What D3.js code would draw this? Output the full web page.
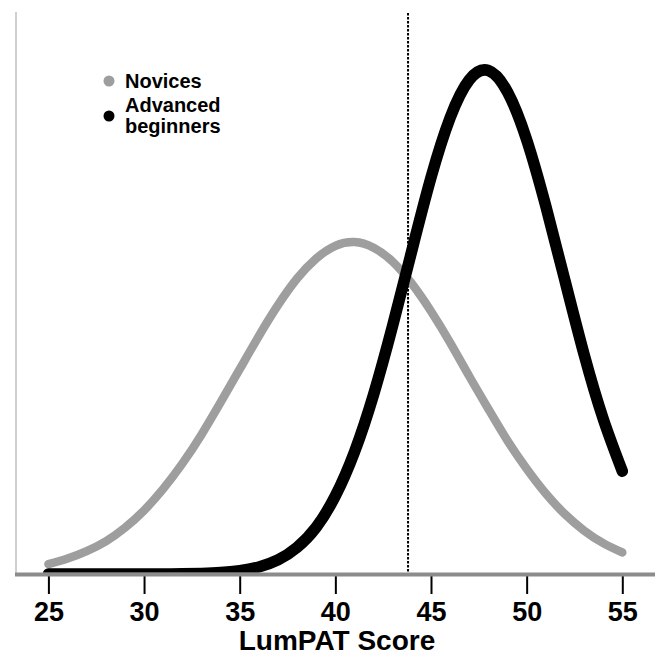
<!DOCTYPE html>
<html>
<head>
<meta charset="utf-8">
<script src="https://cdn.jsdelivr.net/npm/d3@7"></script>
<style>
  body { margin: 0; background: #fff; }
  svg { display: block; }
  text { font-family: "Liberation Sans", Arial, sans-serif; font-weight: bold; }
</style>
</head>
<body>
<div id="chart"></div>
<script>
var W = 656, H = 656;

// scores (x axis)
var scores = [25, 26, 27, 28, 29, 30, 31, 32, 33, 34, 35, 36, 37, 38, 39, 40,
              41, 42, 43, 44, 45, 46, 47, 48, 49, 50, 51, 52, 53, 54, 55];

// curve heights (arbitrary density units)
var novices = [0.0021, 0.0033, 0.0049, 0.0070, 0.0099, 0.0136, 0.0182, 0.0236,
               0.0298, 0.0367, 0.0438, 0.0509, 0.0575, 0.0632, 0.0675, 0.0702,
               0.0710, 0.0698, 0.0668, 0.0621, 0.0562, 0.0495, 0.0423, 0.0353,
               0.0285, 0.0225, 0.0172, 0.0128, 0.0093, 0.0066, 0.0046];

var advanced = [0, 0, 0, 0, 0, 0, 0, 0.00003,
                0.00013, 0.00031, 0.00071, 0.0015, 0.0030, 0.0057, 0.0100, 0.0167,
                0.0261, 0.0384, 0.0532, 0.0692, 0.0848, 0.0976, 0.1057, 0.1077,
                0.1031, 0.0929, 0.0787, 0.0628, 0.0470, 0.0332, 0.0220];

var xTicks = [25, 30, 35, 40, 45, 50, 55];
var cutoff = 43.8;

var legendItems = [
    {lines: ['Novices'], color: '#9e9e9e'},
    {lines: ['Advanced', 'beginners'], color: '#000'}
];

var svg = d3.select('#chart').append('svg')
    .attr('width', W)
    .attr('height', H);

var x = d3.scaleLinear().domain([25, 55]).range([48.4, 622.3]);
var y = d3.scaleLinear().domain([0, 0.12]).range([574, 13]);

// clip so the flat part of the black curve sits on the axis
svg.append('clipPath').attr('id', 'plotclip')
    .append('rect').attr('x', 0).attr('y', 0).attr('width', W).attr('height', 572.5);

// y axis (light line only)
svg.append('line')
    .attr('x1', 16).attr('x2', 16)
    .attr('y1', 12).attr('y2', 574)
    .attr('stroke', '#cfcfcf')
    .attr('stroke-width', 2);

// x axis ticks + labels
var xAxis = d3.axisBottom(x).tickValues(xTicks).tickSize(20).tickPadding(8)
    .tickFormat(d3.format('d'));
var gx = svg.append('g')
    .attr('transform', 'translate(0,574)')
    .call(xAxis);
gx.select('.domain').remove();
gx.selectAll('.tick line').attr('stroke', '#000').attr('stroke-width', 2);
gx.selectAll('.tick text')
    .attr('fill', '#000')
    .style('font-size', '27px')
    .attr('dy', '0.71em');

// axis line
svg.append('line')
    .attr('x1', 15).attr('x2', 655)
    .attr('y1', 574.5).attr('y2', 574.5)
    .attr('stroke', '#8c8c8c')
    .attr('stroke-width', 4);

svg.append('text')
    .attr('x', 337).attr('y', 650)
    .attr('text-anchor', 'middle')
    .style('font-size', '28px')
    .text('LumPAT Score');

// cutoff line
svg.append('line')
    .attr('x1', x(cutoff)).attr('x2', x(cutoff))
    .attr('y1', 13).attr('y2', 572)
    .attr('stroke', '#000')
    .attr('stroke-width', 2)
    .attr('stroke-dasharray', '2.5,1.5');

var line = d3.line()
    .x(function (d, i) { return x(scores[i]); })
    .y(function (d) { return y(d); })
    .curve(d3.curveNatural);

var plot = svg.append('g').attr('clip-path', 'url(#plotclip)');

plot.append('path')
    .attr('d', line(novices))
    .attr('fill', 'none')
    .attr('stroke', '#9e9e9e')
    .attr('stroke-width', 8.5)
    .attr('stroke-linecap', 'round');

plot.append('path')
    .attr('d', line(advanced))
    .attr('fill', 'none')
    .attr('stroke', '#000')
    .attr('stroke-width', 11.5)
    .attr('stroke-linecap', 'round')
    .attr('stroke-linejoin', 'round');

// legend
var lg = svg.append('g');
var rowY = [81, 116];
var lineBase = [[88], [112, 133]];
legendItems.forEach(function (item, i) {
    lg.append('circle')
        .attr('cx', 109).attr('cy', rowY[i]).attr('r', 5.5)
        .attr('fill', item.color);
    item.lines.forEach(function (t, j) {
        lg.append('text')
            .attr('x', 125).attr('y', lineBase[i][j])
            .style('font-size', '20px')
            .attr('fill', '#000')
            .text(t);
    });
});
</script>
</body>
</html>
